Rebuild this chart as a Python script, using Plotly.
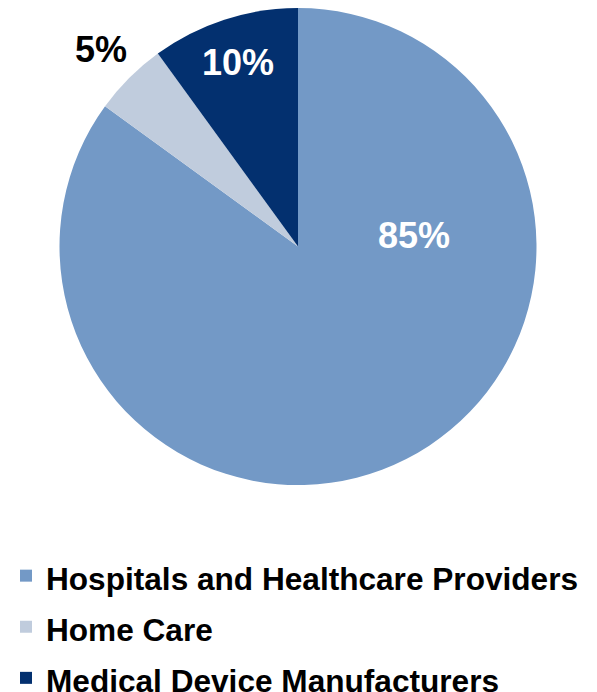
import math
import plotly.graph_objects as go

categories = ["Hospitals and Healthcare Providers", "Home Care", "Medical Device Manufacturers"]
shares = [85, 5, 10]
colors = ["#7399C6", "#C0CCDD", "#03306F"]

FONT = "Liberation Sans, Arial, sans-serif"
# the page body adds an 8px offset, so the figure is 8px smaller than the window
W, H = 589, 684
M_L, M_R, M_T, M_B = 0, 9, 0, 207

# label styling (radius fraction, colour); angles come from the data,
# except the big slice whose label sits towards the right like the original
label_radius = [0.49, 1.17, 0.81]
label_color = ["white", "black", "white"]
big_label_angle = 84.6

fig = go.Figure(
    go.Pie(
        labels=categories,
        values=shares,
        sort=False,
        direction="clockwise",
        rotation=0,
        marker=dict(colors=colors, line=dict(width=0)),
        textinfo="none",
        hoverinfo="label+percent",
    )
)

# place percentage labels using the pie geometry
plot_w = W - M_L - M_R
plot_h = H - M_T - M_B
r_px = min(plot_w, plot_h) / 2
total = sum(shares)
cum = 0
for i, v in enumerate(shares):
    mid = (cum + v / 2) / total * 360
    cum += v
    ang = big_label_angle if i == 0 else mid
    rr = label_radius[i] * r_px
    dx = rr * math.sin(math.radians(ang))
    dy = rr * math.cos(math.radians(ang))
    fig.add_annotation(
        x=0.5 + dx / plot_w,
        y=0.5 + dy / plot_h,
        xref="paper",
        yref="paper",
        text=f"{v}%",
        showarrow=False,
        xanchor="center",
        yanchor="middle",
        font=dict(family=FONT, size=36, color=label_color[i], weight="bold"),
    )

legend_labels = [f'<span style="font-size:31.6px">{c}</span>' for c in categories]
fig.data[0].labels = legend_labels

fig.update_layout(
    width=W,
    height=H,
    margin=dict(l=M_L, r=M_R, t=M_T, b=M_B, autoexpand=False),
    paper_bgcolor="white",
    plot_bgcolor="white",
    showlegend=True,
    legend=dict(
        orientation="v",
        x=-2 / plot_w,
        xanchor="left",
        y=-0.126,
        yanchor="top",
        font=dict(family=FONT, size=37, color="black", weight="bold"),
        traceorder="normal",
    ),
)

fig.write_html("out.html")
